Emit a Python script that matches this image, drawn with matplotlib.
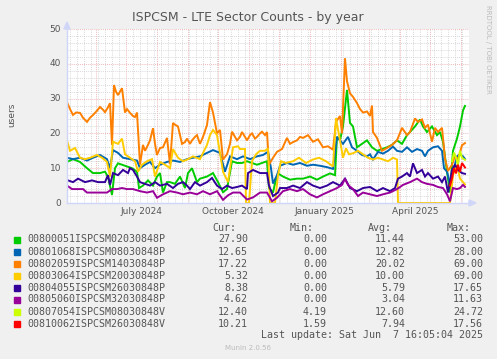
import datetime as dt
import matplotlib
matplotlib.use("Agg")
import matplotlib.pyplot as plt
import matplotlib.dates as mdates

start = dt.datetime(2024, 5, 3)

names = ["00800051ISPCSM02030848P", "00801068ISPCSM08030848P", "00802059ISPCSM14030848P",
         "00803064ISPCSM20030848P", "00804055ISPCSM26030848P", "00805060ISPCSM32030848P",
         "00807054ISPCSM08030848V", "00810062ISPCSM26030848V"]
colors = ["#00CC00", "#0066B3", "#FF8000", "#FFCC00", "#330099", "#990099", "#CCFF00", "#FF0000"]
cur = ["27.90", "12.65", "17.22", "5.32", "8.38", "4.62", "12.40", "10.21"]
mins = ["0.00", "0.00", "0.00", "0.00", "0.00", "0.00", "4.19", "1.59"]
avgs = ["11.44", "12.82", "20.02", "10.00", "5.79", "3.04", "12.60", "7.94"]
maxs = ["53.00", "28.00", "69.00", "69.00", "17.65", "11.63", "24.72", "17.56"]

# days since start, values
green_day = [0, 6, 13, 20, 26, 33, 38, 41, 45, 48, 51, 55, 60, 65, 70, 72, 76, 81, 86, 90, 93, 96, 100, 103,
             108, 113, 118, 121, 125, 130, 133, 140, 146, 151, 156, 160, 165, 170, 175, 180, 185, 190, 195, 200,
             202, 206, 208, 211, 216, 223, 230, 236, 243, 250, 256, 263, 268, 270, 273, 276, 280, 283, 286, 290,
             295, 300, 305, 310, 315, 320, 325, 330, 335, 340, 343, 348, 353, 356, 360, 365, 370, 373, 376,
             380, 383, 386, 390, 393, 396, 398]
green_val = [11.8, 12.6, 11.8, 10.0, 8.6, 8.6, 9.0, 7.5, 2.3, 10.0, 11.4, 11.0, 10.5, 10.0, 9.0, 4.3, 5.0, 6.5,
             5.0, 7.6, 8.6, 3.0, 6.0, 6.0, 5.5, 7.6, 4.3, 8.6, 10.0, 6.0, 7.0, 7.6, 8.6, 6.0, 3.1, 4.0, 12.0,
             11.5, 11.5, 12.0, 11.5, 11.0, 11.5, 12.0, 4.3, 3.0, 5.6, 8.5, 7.6, 6.7, 7.0, 7.0, 7.6, 6.7, 7.6,
             8.5, 8.0, 19.0, 18.0, 22.0, 32.5, 23.0, 22.0, 16.0, 17.0, 18.0, 16.0, 15.0, 15.5, 16.0, 16.7, 18.0,
             17.0, 19.5, 20.4, 22.0, 24.0, 22.0, 20.4, 22.0, 19.5, 20.4, 17.6, 9.0, 3.0, 15.0, 18.5, 22.0, 26.6,
             27.9]
blue_day = [0, 6, 13, 20, 26, 33, 40, 43, 46, 51, 56, 63, 70, 73, 78, 83, 88, 93, 100, 106, 113, 120, 126, 133,
            140, 146, 153, 158, 163, 170, 176, 183, 190, 196, 201, 204, 206, 210, 213, 220, 226, 233, 240, 246,
            253, 260, 266, 270, 273, 276, 281, 285, 290, 295, 300, 303, 306, 311, 316, 321, 326, 330, 335, 340,
            345, 350, 355, 358, 361, 366, 371, 375, 377, 380, 383, 386, 390, 393, 396, 398]
blue_val = [13.0, 12.6, 13.0, 12.2, 13.0, 13.8, 12.6, 10.0, 15.2, 14.4, 13.0, 12.6, 12.2, 10.0, 11.0, 11.8,
            10.0, 11.0, 11.8, 12.2, 11.8, 12.6, 13.0, 13.4, 14.4, 15.2, 14.4, 9.0, 13.4, 12.6, 13.4, 12.6, 13.4,
            13.8, 14.7, 10.0, 5.6, 8.0, 10.7, 11.5, 11.0, 11.5, 10.7, 11.0, 10.7, 10.3, 9.8, 19.0, 18.0, 17.0,
            19.0, 16.0, 15.0, 13.8, 13.4, 14.0, 12.5, 14.7, 14.2, 15.0, 16.2, 15.0, 14.7, 16.0, 14.7, 15.5, 15.0,
            13.4, 15.0, 16.0, 16.3, 15.0, 10.0, 9.0, 5.5, 9.0, 13.4, 14.0, 13.4, 12.65]
orange_day = [0, 3, 6, 9, 13, 16, 20, 23, 26, 30, 33, 36, 38, 41, 43, 45, 47, 49, 51, 53, 55, 58, 60, 63, 66,
              68, 70, 73, 76, 78, 81, 83, 86, 88, 90, 93, 96, 100, 103, 106, 108, 111, 115, 118, 120, 123, 125,
              128, 130, 133, 136, 140, 143, 146, 150, 153, 156, 160, 163, 165, 168, 170, 173, 175, 178, 180,
              183, 185, 188, 190, 193, 195, 198, 200, 202, 206, 210, 215, 220, 223, 226, 230, 233, 236, 241,
              246, 251, 256, 261, 266, 269, 273, 275, 278, 280, 283, 286, 290, 293, 296, 300, 303, 305, 306,
              310, 315, 320, 325, 330, 335, 340, 343, 348, 351, 355, 358, 361, 365, 368, 371, 375, 378, 381,
              385, 388, 391, 395, 398]
orange_val = [29.0, 27.0, 25.3, 26.0, 25.9, 24.5, 23.3, 24.5, 25.3, 26.5, 27.6, 26.8, 26.1, 27.5, 28.7, 16.7,
              33.9, 32.0, 31.0, 32.0, 33.0, 26.0, 27.0, 25.9, 25.0, 24.7, 26.0, 11.0, 16.7, 15.0, 16.7, 18.0,
              21.5, 17.0, 13.8, 15.8, 16.0, 18.7, 11.2, 23.0, 22.5, 22.0, 17.0, 17.5, 18.5, 17.0, 18.0, 19.0,
              19.5, 17.0, 19.0, 22.4, 29.0, 26.0, 20.0, 21.0, 12.5, 14.0, 17.0, 20.5, 19.0, 18.0, 19.0, 20.4,
              19.0, 18.0, 19.5, 20.0, 18.5, 19.0, 20.0, 20.5, 19.5, 20.4, 11.0, 13.0, 14.7, 15.5, 18.7, 17.0,
              17.5, 18.0, 19.0, 18.7, 19.5, 17.6, 18.3, 16.0, 16.3, 15.3, 23.3, 25.0, 20.0, 41.6, 35.0, 31.5,
              30.5, 28.7, 27.0, 26.0, 26.3, 25.0, 28.0, 20.4, 18.7, 15.0, 15.8, 16.7, 18.0, 21.6, 19.5, 20.4,
              24.3, 23.3, 24.0, 21.6, 22.5, 17.6, 21.6, 20.4, 21.6, 12.8, 9.2, 11.0, 13.5, 12.5, 16.6, 17.22]
yellow_day = [0, 3, 8, 13, 18, 23, 30, 35, 40, 43, 46, 51, 55, 58, 63, 68, 71, 75, 80, 85, 88, 93, 98, 103,
              106, 111, 116, 121, 126, 133, 140, 143, 146, 150, 153, 156, 161, 166, 171, 173, 178, 179, 182,
              185, 189, 193, 198, 201, 203, 208, 211, 214, 219, 226, 232, 239, 246, 252, 259, 266, 269, 272,
              276, 279, 282, 286, 291, 296, 301, 306, 311, 316, 321, 326, 330, 331, 383, 386, 390, 393, 396,
              398]
yellow_val = [18.0, 15.0, 15.8, 13.0, 12.6, 13.0, 13.8, 13.0, 11.8, 7.6, 17.6, 17.0, 18.5, 14.0, 13.0, 12.0,
              9.0, 11.0, 12.0, 12.6, 7.6, 11.8, 11.0, 10.0, 15.5, 13.0, 12.0, 12.6, 13.4, 12.6, 16.7, 19.5,
              21.0, 19.5, 14.4, 9.0, 6.0, 16.0, 16.3, 15.5, 15.5, 0.0, 0.0, 12.0, 14.0, 15.0, 15.0, 15.7, 0.0,
              0.0, 8.0, 12.0, 11.5, 12.0, 13.0, 11.5, 12.5, 13.0, 12.0, 10.5, 24.4, 19.6, 13.0, 15.7, 14.0,
              14.3, 15.0, 14.0, 13.0, 12.5, 13.0, 12.5, 12.0, 13.0, 12.5, 0.0, 0.0, 8.0, 11.0, 7.0, 6.0, 5.32]
indigo_day = [0, 6, 11, 18, 25, 31, 38, 41, 43, 46, 51, 56, 61, 63, 66, 70, 73, 78, 83, 88, 93, 100, 106, 111,
              116, 120, 123, 128, 133, 140, 145, 150, 155, 160, 165, 170, 175, 180, 181, 186, 193, 200, 202,
              206, 211, 213, 220, 226, 233, 240, 246, 253, 260, 266, 273, 278, 283, 290, 296, 303, 310, 316,
              323, 328, 331, 335, 340, 343, 346, 350, 355, 358, 361, 366, 371, 375, 378, 381, 385, 388, 391,
              395, 398]
indigo_val = [6.6, 6.0, 7.0, 6.0, 6.5, 6.0, 6.0, 8.0, 5.2, 8.6, 8.0, 9.5, 8.6, 10.0, 9.5, 7.6, 6.0, 5.5, 5.0,
              6.0, 5.0, 5.5, 4.3, 5.5, 6.0, 5.0, 4.0, 6.0, 5.0, 6.0, 7.2, 5.0, 4.0, 5.0, 4.3, 4.6, 5.0, 4.0,
              8.6, 9.5, 8.6, 8.6, 5.0, 2.0, 3.0, 4.3, 4.3, 5.0, 4.3, 6.0, 5.0, 4.3, 5.0, 6.0, 5.0, 7.0, 4.3,
              3.4, 4.3, 4.6, 3.4, 4.3, 3.4, 4.3, 7.0, 7.6, 8.6, 7.6, 11.4, 8.6, 9.5, 7.6, 8.6, 7.0, 7.6, 6.0,
              7.6, 3.0, 9.5, 11.0, 9.5, 8.6, 8.38]
purple_day = [0, 5, 10, 16, 20, 26, 33, 40, 45, 50, 55, 60, 66, 73, 80, 86, 90, 96, 103, 110, 116, 123, 130,
              136, 143, 150, 156, 161, 166, 173, 180, 186, 193, 200, 205, 210, 216, 223, 230, 236, 243, 250,
              256, 263, 270, 275, 278, 281, 286, 291, 296, 303, 310, 316, 323, 330, 336, 343, 350, 355, 360,
              366, 371, 376, 380, 383, 386, 390, 393, 396, 398]
purple_val = [5.0, 4.0, 4.0, 4.0, 3.0, 3.0, 3.0, 3.0, 4.0, 4.0, 4.3, 4.0, 4.0, 3.4, 3.0, 3.4, 1.5, 2.5, 3.4, 3.0,
              2.5, 3.0, 2.5, 3.4, 2.5, 3.4, 0.9, 2.2, 3.0, 3.0, 1.0, 1.6, 3.0, 3.0, 0.5, 1.5, 3.4, 4.0, 3.4,
              4.0, 2.5, 1.6, 2.5, 3.4, 4.3, 5.2, 7.0, 5.2, 4.0, 2.0, 3.0, 2.5, 2.0, 2.5, 3.0, 4.0, 5.2, 6.0,
              7.0, 6.0, 5.5, 5.2, 4.6, 4.3, 2.5, 0.5, 4.3, 4.0, 4.3, 5.2, 4.62]
lime_day = [385, 387, 389, 391, 393, 395, 398]
lime_val = [12.0, 14.5, 13.0, 11.0, 15.0, 13.0, 12.4]
red_day = [383, 385, 387, 389, 391, 393, 395, 398]
red_val = [5.0, 7.0, 10.0, 8.5, 11.0, 9.0, 11.5, 10.21]

series = [(green_day, green_val), (blue_day, blue_val), (orange_day, orange_val), (yellow_day, yellow_val),
          (indigo_day, indigo_val), (purple_day, purple_val), (lime_day, lime_val), (red_day, red_val)]

W, H = 497, 359
fig = plt.figure(figsize=(W / 100, H / 100), dpi=100, facecolor="#F0F0F0")
ax = fig.add_axes([67 / W, 1 - 203 / H, 402 / W, 174 / H])
ax.set_facecolor("white")

for (d, v), c in zip(series, colors):
    dates = [start + dt.timedelta(days=x) for x in d]
    ax.plot(dates, v, color=c, lw=1.4, solid_joinstyle="miter")

ax.set_xlim(start, start + dt.timedelta(days=402))
ax.set_ylim(0, 50)

# grid
ax.set_yticks(range(0, 51, 10))
ax.set_yticks(range(0, 51, 2), minor=True)
ax.xaxis.set_major_locator(mdates.MonthLocator())
ax.xaxis.set_minor_locator(mdates.WeekdayLocator(byweekday=mdates.MO))
ax.grid(which="minor", color="#cccccc", ls=(0, (1, 1.5)), lw=0.6)
ax.grid(which="major", color="#e8a0a0", ls=(0, (1, 1.5)), lw=0.6)
ax.set_axisbelow(True)
ax.tick_params(which="both", length=0, labelbottom=False, labelleft=False)
for s in ["top", "right"]:
    ax.spines[s].set_visible(False)
for s in ["left", "bottom"]:
    ax.spines[s].set_color("#cfd6f8")
    ax.spines[s].set_linewidth(1)

def fx(x):
    return x / W

def fy(y):
    return 1 - y / H

# axis arrows
fig.patches.append(plt.Polygon([[fx(64), fy(29)], [fx(70), fy(29)], [fx(67), fy(22)]],
                               transform=fig.transFigure, color="#cfd6f8"))
fig.patches.append(plt.Polygon([[fx(469), fy(200)], [fx(469), fy(206)], [fx(476), fy(203)]],
                               transform=fig.transFigure, color="#cfd6f8"))

tc = "#555555"
for v in range(0, 51, 10):
    fig.text(fx(61), fy(203 - v * 3.48), str(v), ha="right", va="center", fontsize=6.5, color=tc)
for m, lab in [(dt.datetime(2024, 7, 16), "July 2024"), (dt.datetime(2024, 10, 16), "October 2024"),
               (dt.datetime(2025, 1, 15), "January 2025"), (dt.datetime(2025, 4, 16), "April 2025")]:
    px = 67 + (m - start).days
    fig.text(fx(px), fy(212), lab, ha="center", va="center", fontsize=6.5, color=tc)

fig.text(fx(248), fy(18), "ISPCSM - LTE Sector Counts - by year", ha="center", va="center",
         fontsize=9, color=tc)
fig.text(fx(12), fy(115), "users", rotation=90, ha="center", va="center", fontsize=6.5, color=tc)
fig.text(fx(488), fy(5), "RRDTOOL / TOBI OETIKER", rotation=270, ha="center", va="top",
         fontsize=5, color="#bbbbbb")

# legend
mono = "DejaVu Sans Mono"
fs = 7.2
for hx, h in zip([212, 290, 368, 447], ["Cur:", "Min:", "Avg:", "Max:"]):
    fig.text(fx(hx), fy(228), h, ha="left", va="center", family=mono, fontsize=fs, color=tc)
row_y = [239.5, 251.7, 264, 276, 288, 299.5, 311.7, 323.7]
for i, y in enumerate(row_y):
    fig.patches.append(plt.Rectangle((fx(14), fy(y + 3)), 6 / W, 6 / H, transform=fig.transFigure,
                                     color=colors[i]))
    fig.text(fx(27), fy(y), names[i], ha="left", va="center", family=mono, fontsize=fs, color=tc)
    for cx, val in zip([248, 327, 405, 483], [cur[i], mins[i], avgs[i], maxs[i]]):
        fig.text(fx(cx), fy(y), val, ha="right", va="center", family=mono, fontsize=fs, color=tc)
fig.text(fx(483), fy(335), "Last update: Sat Jun  7 16:05:04 2025", ha="right", va="center",
         family=mono, fontsize=fs, color=tc)
fig.text(fx(248), fy(348), "Munin 2.0.56", ha="center", va="center", fontsize=5, color="#bbbbbb")

fig.savefig("out.png", dpi=100, facecolor=fig.get_facecolor())
